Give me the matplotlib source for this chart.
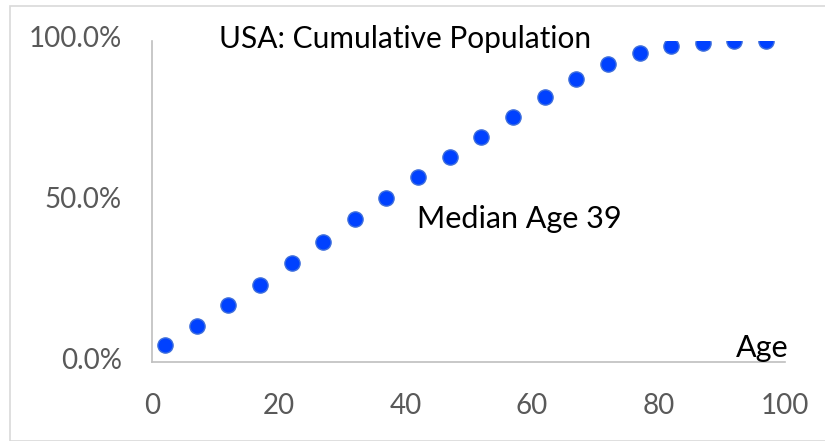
import numpy as np
import matplotlib
matplotlib.use('Agg')
from matplotlib import pyplot as plt
from matplotlib.patches import Rectangle
import matplotlib.transforms as mtransforms

# ages (midpoint of 5-year groups) and cumulative share of population
ages = [2, 7, 12, 17, 22, 27, 32, 37, 42, 47, 52, 57, 62, 67, 72, 77, 82, 87, 92, 97]
cum_pop = [0.053, 0.113, 0.176, 0.241, 0.307, 0.374, 0.445, 0.511, 0.576, 0.637,
           0.699, 0.761, 0.825, 0.882, 0.926, 0.961, 0.982, 0.994, 0.999, 1.000]

y_ticks = [0.0, 0.5, 1.0]
x_ticks = [0, 20, 40, 60, 80, 100]

plt.rcParams['font.family'] = ['Lato', 'DejaVu Sans']

fig = plt.figure(figsize=(8.25, 4.41), dpi=100)
ax = fig.add_axes([0.1848, 0.1791, 0.7667, 0.7286])

# light frame round the chart area
fig.patches.append(Rectangle((10/825, 0), 1.0, 1 - 5.7/441, transform=fig.transFigure,
                             fill=False, edgecolor='#d9d9d9', linewidth=1.2))

ax.scatter(ages, cum_pop, s=120, color='#0041ff', edgecolor='#3f6fdc', linewidth=1.0, zorder=3)

ax.set_xlim(0, 100)
ax.set_ylim(0, 1.0)
ax.set_xticks(x_ticks)
ax.set_yticks(y_ticks)
ax.set_yticklabels(['{:.1f}%'.format(v * 100) for v in y_ticks])

for s in ['top', 'right']:
    ax.spines[s].set_visible(False)
for s in ['left', 'bottom']:
    ax.spines[s].set_color('#bfbfbf')
    ax.spines[s].set_linewidth(1.2)

ax.tick_params(axis='both', length=0, labelsize=20, labelcolor='#595959')
ax.tick_params(axis='y', pad=22)
ax.tick_params(axis='x', pad=22)
offset = mtransforms.ScaledTranslation(0, 4/100, fig.dpi_scale_trans)
for lab in ax.get_yticklabels():
    lab.set_transform(lab.get_transform() + offset)

ax.text(0.40, 1.005, 'USA: Cumulative Population', transform=ax.transAxes,
        ha='center', va='center', fontsize=21.5, color='black')
ax.text(41.8, 0.445, 'Median Age 39', ha='left', va='center', fontsize=22, color='black')
ax.text(1.005, 0.045, 'Age', transform=ax.transAxes, ha='right', va='center',
        fontsize=22, color='black')

fig.savefig('out.png', dpi=100)
